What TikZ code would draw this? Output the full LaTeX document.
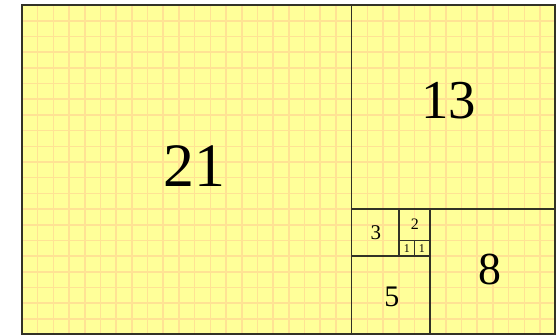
\documentclass[tikz,border=0pt]{standalone}
\usepackage{fontspec}
\setmainfont{Liberation Serif}
\definecolor{fibfill}{RGB}{255,255,153}
\definecolor{fibgrid}{RGB}{255,226,148}
\definecolor{fibline}{RGB}{50,50,38}
\newcommand{\numsize}[1]{\fontsize{#1}{#1}\selectfont}

\begin{document}
\begin{tikzpicture}[
      x=15.7bp,y=15.7bp,
      gridline/.style={fibgrid,line width=1.6bp},
      square/.style={draw=fibline,line width=1.6bp},
      num/.style={inner sep=0pt,text=black}
  ]
    \useasboundingbox (-1.4,-0.02) rectangle (34.02,21.32);
    \fill[fibfill] (0,0) rectangle (34,21);
    \draw[gridline,step=15.7bp] (0,0) grid (34,21);

    % squares of the tiling
    \foreach \x/\y/\s in {0/0/21,21/8/13,26/0/8,21/0/5,21/5/3,24/6/2,24/5/1,25/5/1}
      \draw[square] (\x,\y) rectangle ++(\s,\s);
    \draw[fibline,line width=2.8bp] (0,0) rectangle (34,21);

    % labels
    \node[num,font=\numsize{62}] (n21) at (11.0,10.74) {21};
    \node[num,font=\numsize{55}] (n13) at (27.2,14.88) {13};
    \node[num,font=\numsize{46}] (n8)  at (29.8,4.18)  {8};
    \node[num,font=\numsize{30}] (n5)  at (23.57,2.4)  {5};
    \node[num,font=\numsize{21}] (n3)  at (22.55,6.48) {3};
    \node[num,font=\numsize{16}] (n2)  at (25.03,7.05) {2};
    \node[num,font=\numsize{12}] (n1a) at (24.52,5.5) {1};
    \node[num,font=\numsize{12}] (n1b) at (25.48,5.5) {1};
  \end{tikzpicture}
\end{document}
